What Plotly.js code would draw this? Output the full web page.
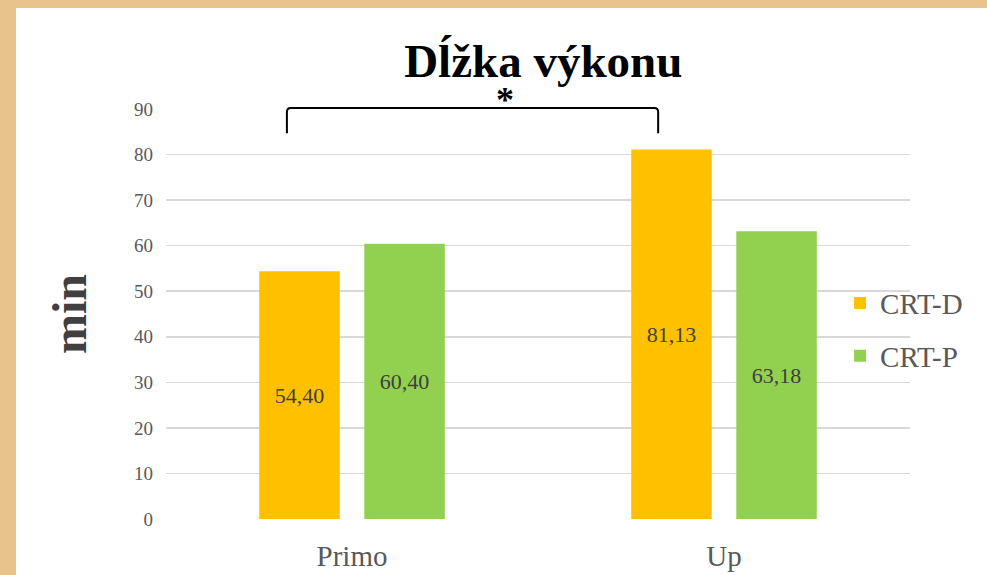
<!DOCTYPE html>
<html><head><meta charset="utf-8">
<script src="https://cdn.plot.ly/plotly-3.0.1.min.js"></script>
<style>
html,body{margin:0;padding:0;width:987px;height:575px;overflow:hidden;background:#E8C48C;}
#chart{position:absolute;left:16px;top:8px;width:971px;height:567px;background:#fff;}
</style></head>
<body><div id="chart"></div>
<script>
const categories = ["Primo", "Up"];
const crtD = [54.40, 81.13];
const crtP = [60.40, 63.18];
const seriesNames = ["CRT-D", "CRT-P"];
const yTicks = [0, 10, 20, 30, 40, 50, 60, 70, 80, 90];

const fmt = v => v.toFixed(2).replace(".", ",");
const serif = "Liberation Serif";

const mk = (name, vals, color, grp) => ({
  type: "bar", name: name, x: categories, y: vals,
  marker: {color: color},
  text: vals.map(fmt), textposition: "inside", insidetextanchor: "middle",
  textfont: {family: serif, size: 22, color: "#404040"},
  hoverinfo: "none", legendgroup: grp
});

const data = [mk(seriesNames[0], crtD, "#FFC000", "a"), mk(seriesNames[1], crtP, "#92D050", "b")];

const layout = {
  width: 971, height: 567,
  margin: {l: 150, r: 77, t: 101, b: 56},
  paper_bgcolor: "#ffffff", plot_bgcolor: "#ffffff",
  barmode: "group", bargap: 0.435, bargroupgap: 0.234,
  font: {family: serif, color: "#595959"},
  title: {text: "Dĺžka výkonu", font: {family: serif, size: 47, color: "#000", weight: "bold"},
          x: 0.543, xref: "container", xanchor: "center", y: 0.908, yanchor: "middle"},
  xaxis: {type: "category", showgrid: false, zeroline: false, showline: false, ticks: "",
          ticklabelstandoff: 17,
          tickfont: {family: serif, size: 29, color: "#595959"}},
  yaxis: {range: [0, 90], tickvals: yTicks, showgrid: true, gridcolor: "#d9d9d9", gridwidth: 1.5,
          zeroline: false, showline: false, ticks: "", ticklen: 0, ticklabelstandoff: 12,
          tickfont: {family: serif, size: 19, color: "#595959"},
          title: {text: "min", font: {family: serif, size: 48, color: "#404040", weight: "bold"}, standoff: 32}},
  legend: {x: 0.906, xanchor: "left", y: 0.462, yanchor: "middle", bgcolor: "rgba(0,0,0,0)",
           font: {family: serif, size: 29, color: "#595959"}, traceorder: "grouped", tracegroupgap: 12,
           itemwidth: 30},
  shapes: [{type: "path", xref: "x", yref: "paper",
            path: "M -0.175,0.941 L -0.175,0.992 Q -0.175,1.0024 -0.165,1.0024 L 0.813,1.0024 Q 0.823,1.0024 0.823,0.992 L 0.823,0.941",
            line: {color: "#000", width: 2}}],
  annotations: [{text: "*", xref: "x", yref: "paper", x: 0.411, y: 1.023, showarrow: false,
                 font: {family: serif, size: 36, color: "#000", weight: "bold"}, yanchor: "middle"}]
};

Plotly.newPlot("chart", data, layout, {displayModeBar: false, staticPlot: true});
</script></body></html>
